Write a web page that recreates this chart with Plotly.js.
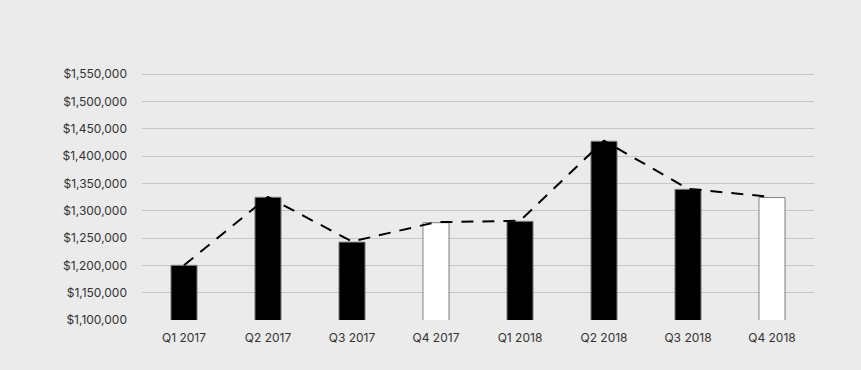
<!DOCTYPE html>
<html>
<head>
<meta charset="utf-8">
<script src="https://cdn.plot.ly/plotly-3.0.1.min.js"></script>
<style>html,body{margin:0;padding:0;background:#ebebeb;}</style>
</head>
<body>
<div id="chart" style="width:861px;height:370px;"></div>
<script>
const categories = ["Q1 2017","Q2 2017","Q3 2017","Q4 2017","Q1 2018","Q2 2018","Q3 2018","Q4 2018"];
const barValues = [1200000, 1324500, 1242500, 1278000, 1280500, 1427000, 1339000, 1324000];
const barColors = ["#000000","#000000","#000000","#ffffff","#000000","#000000","#000000","#ffffff"];
const lineValues = [1200000, 1325000, 1243500, 1279000, 1281500, 1428000, 1340000, 1325000];
const yTicks = [1100000,1150000,1200000,1250000,1300000,1350000,1400000,1450000,1500000,1550000];

const traces = [
  {
    type: "bar",
    x: categories,
    y: barValues,
    marker: {color: barColors, line: {color: "#7f7f7f", width: 1}},
    hoverinfo: "skip"
  },
  {
    type: "scatter",
    mode: "lines",
    x: categories,
    y: lineValues,
    line: {color: "#000000", width: 2, dash: "12px,9px"},
    hoverinfo: "skip"
  }
];

const layout = {
  width: 861, height: 370,
  margin: {l: 142, r: 47, t: 71, b: 50},
  paper_bgcolor: "#ebebeb",
  plot_bgcolor: "#ebebeb",
  showlegend: false,
  bargap: 0.69,
  font: {family: "Inter, 'Noto Sans', sans-serif", size: 12, color: "#333333"},
  xaxis: {
    type: "category",
    showgrid: false,
    showline: false,
    zeroline: false,
    ticks: "",
    ticklabelstandoff: 9,
    tickfont: {size: 12, color: "#333333"}
  },
  yaxis: {
    range: [1100000, 1555500],
    tickvals: yTicks,
    ticktext: yTicks.map(v => "$" + v.toLocaleString("en-US")),
    showgrid: true,
    gridcolor: "#c6c6c6",
    gridwidth: 1,
    zeroline: false,
    showline: false,
    ticks: "",
    ticklabelstandoff: 14,
    tickfont: {size: 12, color: "#333333"}
  }
};

Plotly.newPlot("chart", traces, layout, {displayModeBar: false, staticPlot: true});
</script>
</body>
</html>
